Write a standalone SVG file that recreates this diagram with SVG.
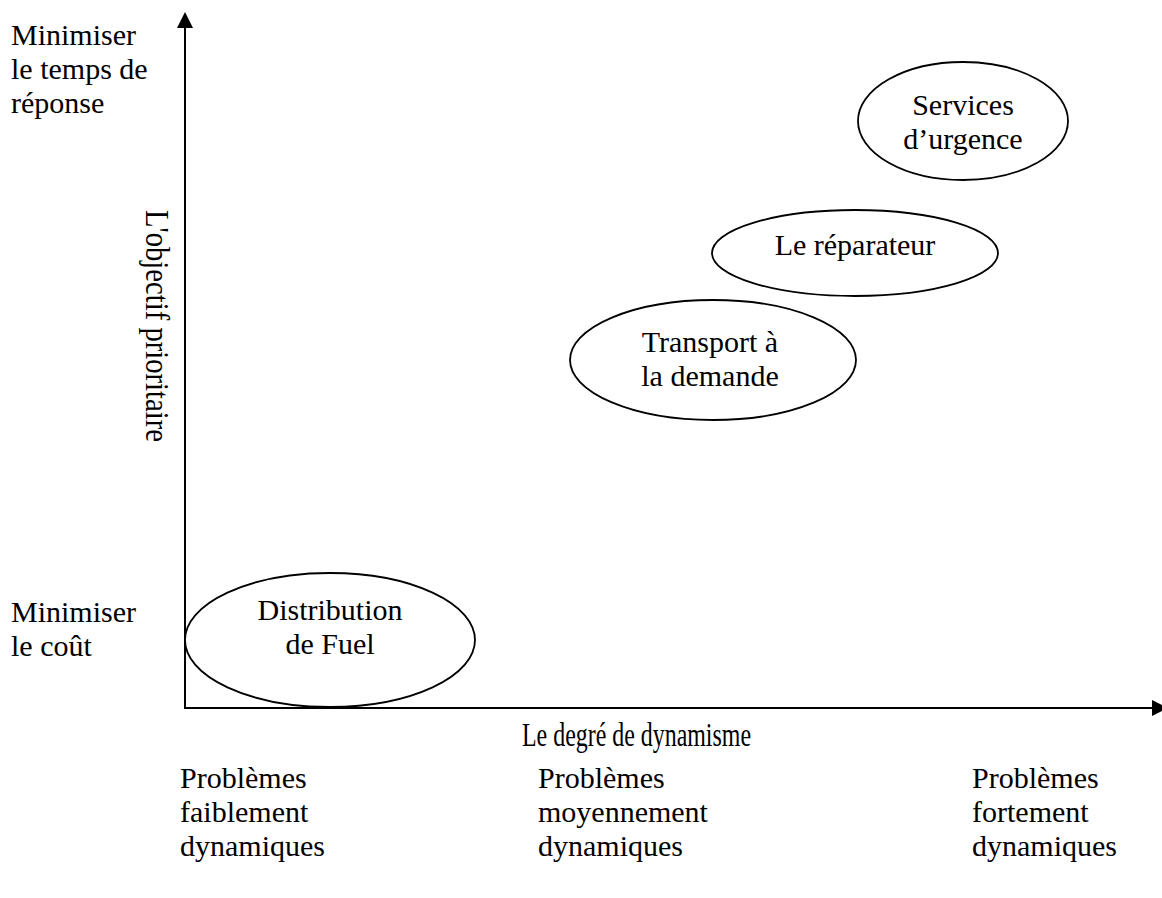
<svg xmlns="http://www.w3.org/2000/svg" width="1162" height="898" viewBox="0 0 1162 898">
<style>
text{font-family:"Liberation Serif","Times New Roman",serif;font-size:30px;fill:#000}
.c{text-anchor:middle}
.node ellipse{fill:#fff;stroke:#000;stroke-width:1.8}
.axis{stroke:#000;stroke-width:2;fill:none}
</style>
<defs>
<marker id="ah" markerUnits="userSpaceOnUse" markerWidth="16" markerHeight="18" refX="14" refY="8" orient="auto" viewBox="0 0 16 16">
<path d="M0,0 L16,8 L0,16 Z" fill="#000"/>
</marker>
</defs>
<g id="connectors">
<line class="axis" x1="185" y1="709" x2="185" y2="14" marker-end="url(#ah)"/>
<line class="axis" x1="184" y1="708" x2="1166" y2="708" marker-end="url(#ah)"/>
</g>
<g id="services" class="node">
<ellipse cx="963" cy="121" rx="105" ry="59"/>
<text class="c" x="963" y="115">Services</text>
<text class="c" x="963" y="149">d’urgence</text>
</g>
<g id="reparateur" class="node">
<ellipse cx="855" cy="253" rx="143" ry="43"/>
<text class="c" x="855" y="255">Le réparateur</text>
</g>
<g id="transport" class="node">
<ellipse cx="713" cy="360" rx="143" ry="60"/>
<text class="c" x="710" y="352">Transport à</text>
<text class="c" x="710" y="386">la demande</text>
</g>
<g id="fuel" class="node">
<ellipse cx="330" cy="640" rx="145" ry="67"/>
<text class="c" x="330" y="620">Distribution</text>
<text class="c" x="330" y="654">de Fuel</text>
</g>
<g id="labels">
<text x="11" y="45">Minimiser</text>
<text x="11" y="79">le temps de</text>
<text x="11" y="113">réponse</text>
<text x="11" y="622">Minimiser</text>
<text x="11" y="656">le coût</text>
<text transform="translate(146,210) rotate(90)" x="0" y="0" style="font-size:33px" textLength="232" lengthAdjust="spacingAndGlyphs">L'objectif prioritaire</text>
<text x="522" y="746" style="font-size:33px" textLength="229" lengthAdjust="spacingAndGlyphs">Le degré de dynamisme</text>
<text x="180" y="788">Problèmes</text>
<text x="180" y="822">faiblement</text>
<text x="180" y="856">dynamiques</text>
<text x="538" y="788">Problèmes</text>
<text x="538" y="822">moyennement</text>
<text x="538" y="856">dynamiques</text>
<text x="972" y="788">Problèmes</text>
<text x="972" y="822">fortement</text>
<text x="972" y="856">dynamiques</text>
</g>
</svg>
